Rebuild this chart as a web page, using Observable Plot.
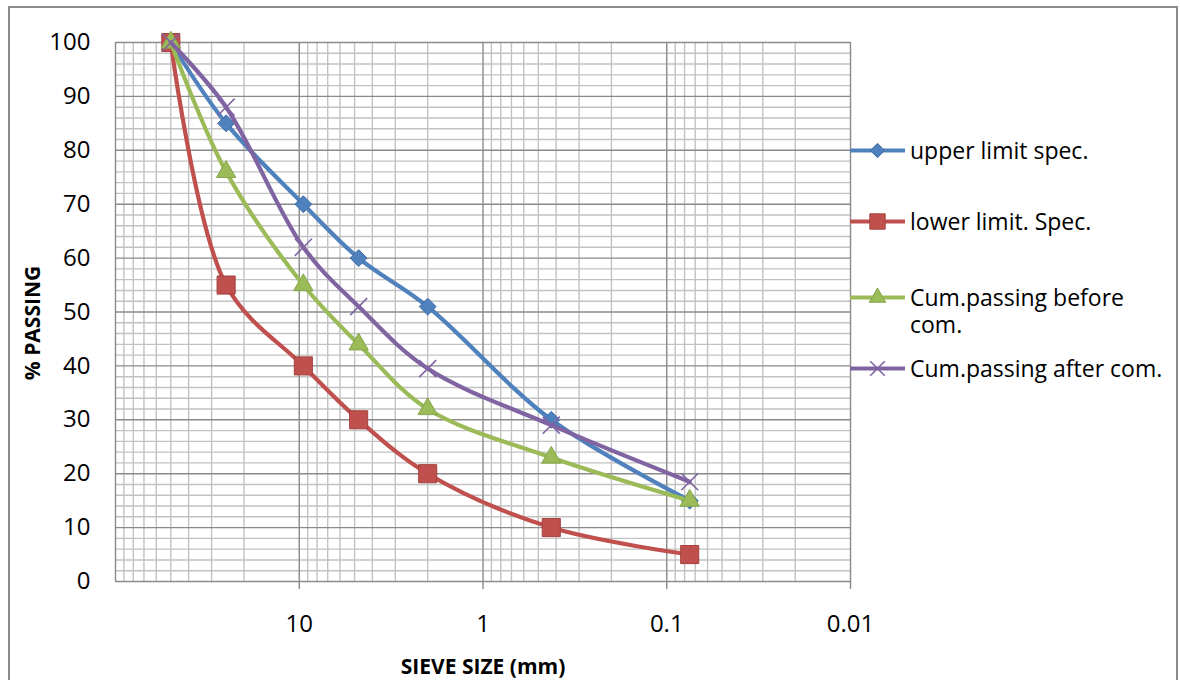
<!DOCTYPE html>
<html><head><meta charset="utf-8">
<script src="https://cdn.jsdelivr.net/npm/d3@7"></script>
<script src="https://cdn.jsdelivr.net/npm/@observablehq/plot@0.6"></script>
<style>
html,body{margin:0;padding:0;background:#fff;}
body{font-family:"Open Sans","Noto Sans",sans-serif;width:1180px;height:680px;overflow:hidden;position:relative;}
#frame{position:absolute;left:8px;top:6px;width:1170px;height:700px;border:2px solid #8c8c8c;box-sizing:border-box;}
#chart{position:absolute;left:0;top:0;}
#legend{position:absolute;left:840px;top:0;width:325px;}
.entry{position:absolute;left:0;display:flex;align-items:flex-start;font-size:23px;color:#000;line-height:27px;white-space:nowrap;}
.entry svg{flex:none;margin-right:2px;}
</style></head><body>
<div id="frame"><div id="chart"></div><div id="legend"></div></div>
<script>
// ---- data ----
const sieveSizes = [50, 25, 9.5, 4.75, 2, 0.425, 0.075];
const upperLimit = [100, 85, 70, 60, 51, 30, 15];
const lowerLimit = [100, 55, 40, 30, 20, 10, 5];
const cumBefore  = [100, 76, 55, 44, 32, 23, 15];
const cumAfter   = [100, 88, 62, 51, 39.5, 29, 18.5];
const seriesNames = ["upper limit spec.", "lower limit. Spec.", "Cum.passing before com.", "Cum.passing after com."];
const seriesColors = ["#4F81BD", "#C0504D", "#9BBB59", "#8064A2"];
const seriesBorders = ["#3f6ea8", "#a4413e", "#86a64a", "#8064A2"];
const seriesSymbols = ["diamond2", "square", "triangle", "times"];
const xTickValues = [10, 1, 0.1, 0.01];
const xMajorGrid = [100, 10, 1, 0.1, 0.01];
const yTickValues = [0, 10, 20, 30, 40, 50, 60, 70, 80, 90, 100];
const yAxisLabel = "% PASSING";
const xAxisLabel = "SIEVE SIZE (mm)";

// minor grid values (log decades 2..9, and every 2 %)
const xMinorGrid = [];
for (const d of [0.01, 0.1, 1, 10]) for (let k = 2; k <= 9; k++) xMinorGrid.push(+(d * k).toPrecision(3));
const yMinorGrid = d3.range(2, 100, 2).filter(v => v % 10 !== 0);

const seriesValues = [upperLimit, lowerLimit, cumBefore, cumAfter];
const table = seriesValues.map((vals, i) => vals.map((v, j) => ({series: seriesNames[i], size: sieveSizes[j], pct: v})));

const markR = [7.6, 10.2, 7.2, 7.8];

const marks = [
  Plot.ruleX(xMinorGrid, {stroke: "#c2c2c2", strokeWidth: 1.4}),
  Plot.ruleY(yMinorGrid, {stroke: "#c2c2c2", strokeWidth: 1.4}),
  Plot.ruleX(xMajorGrid, {stroke: "#8a8a8a", strokeWidth: 1.4}),
  Plot.ruleY(yTickValues, {stroke: "#8a8a8a", strokeWidth: 1.4}),
  Plot.axisY({ticks: yTickValues, tickSize: 0, tickPadding: 25, fontSize: 24, label: null}),
  Plot.axisX({ticks: xTickValues, tickSize: 8, tickPadding: 25, fontSize: 24, stroke: "#8a8a8a", strokeWidth: 1.4, tickFormat: d => String(d), label: null}),
  Plot.text([yAxisLabel], {frameAnchor: "left", textAnchor: "middle", dx: -82, dy: 11, rotate: -90, fontSize: 21, fontWeight: "bold"}),
  Plot.text([xAxisLabel], {frameAnchor: "bottom", dy: 86, fontSize: 21, fontWeight: "bold", lineAnchor: "middle"})
];
table.forEach((rows, i) => {
  marks.push(Plot.line(rows, {x: "size", y: "pct", stroke: seriesColors[i], strokeWidth: 4.2, curve: "catmull-rom"}));
  if (seriesSymbols[i] === "times") {
    marks.push(Plot.dot(rows, {x: "size", y: "pct", symbol: "times", r: markR[i], stroke: seriesColors[i], strokeWidth: 1.6}));
  } else {
    marks.push(Plot.dot(rows, {x: "size", y: "pct", symbol: seriesSymbols[i], r: markR[i], fill: seriesColors[i], stroke: seriesBorders[i], strokeWidth: 1}));
  }
});

const chart = Plot.plot({
  width: 880, height: 672,
  marginLeft: 105, marginRight: 40, marginTop: 34, marginBottom: 99,
  style: {fontFamily: '"Open Sans","Noto Sans",sans-serif', color: "#000", background: "#fff", overflow: "visible"},
  x: {type: "log", domain: [100, 0.01]},
  y: {domain: [0, 100]},
  marks
});
document.getElementById("chart").append(chart);

// ---- legend ----
const legendTops = [128.5, 199.5, 275.5, 346.5];
const legend = document.getElementById("legend");
seriesNames.forEach((name, i) => {
  const div = document.createElement("div");
  div.className = "entry";
  div.style.top = legendTops[i] + "px";
  const svg = d3.create("svg").attr("width", 58).attr("height", 27);
  svg.append("line").attr("x1", 0).attr("x2", 55).attr("y1", 13.5).attr("y2", 13.5).attr("stroke", seriesColors[i]).attr("stroke-width", 4.2);
  const symMap = {diamond2: d3.symbolDiamond2, square: d3.symbolSquare, triangle: d3.symbolTriangle, times: d3.symbolTimes};
  const r = markR[i] * 0.85;
  const p = svg.append("path").attr("d", d3.symbol(symMap[seriesSymbols[i]], Math.PI * r * r)()).attr("transform", "translate(27.5,13.5)");
  if (seriesSymbols[i] === "times") p.attr("fill", "none").attr("stroke", seriesColors[i]).attr("stroke-width", 1.6);
  else p.attr("fill", seriesColors[i]).attr("stroke", seriesBorders[i]).attr("stroke-width", 1);
  div.append(svg.node());
  const t = document.createElement("span");
  if (i === 2) { t.innerHTML = "Cum.passing before<br>com."; } else t.textContent = name;
  div.append(t);
  legend.append(div);
});
</script>
</body></html>
